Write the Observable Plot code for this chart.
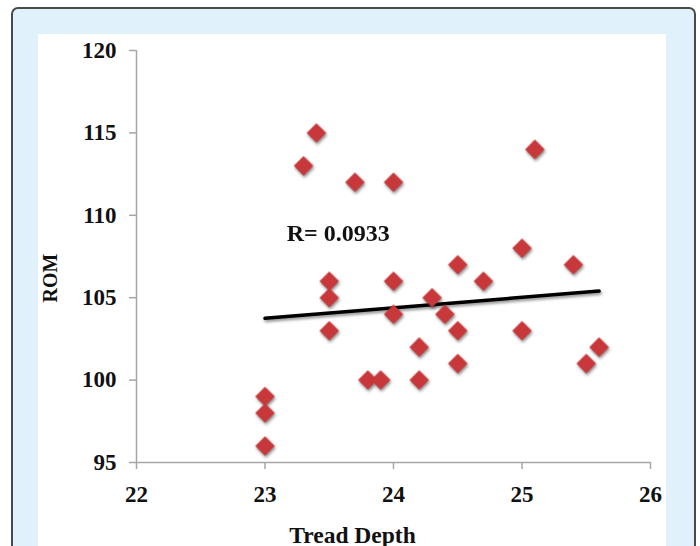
<!DOCTYPE html>
<html>
<head>
<meta charset="utf-8">
<script src="https://cdn.jsdelivr.net/npm/d3@7"></script>
<script src="https://cdn.jsdelivr.net/npm/@observablehq/plot@0.6"></script>
<style>
  html, body { margin: 0; padding: 0; background: #ffffff; width: 700px; height: 546px; overflow: hidden; }
  #frame { position: absolute; left: 11px; top: 7px; width: 681px; height: 560px;
           background: #e0f1fb; border: 2px solid #4a4a4a; border-radius: 7px; }
  #panel { position: absolute; left: 38px; top: 34px; width: 628px; height: 512px; background: #ffffff; }
  #panel svg { display: block; overflow: visible; }
</style>
</head>
<body>
<div id="frame"></div>
<div id="panel"></div>
<script>
// Tread depth (x) and ROM (y) for each subject
const treadDepth = [23.3, 23.4, 23.7, 24.0, 23.5, 23.5, 23.5, 24.0, 24.0, 24.3, 24.4, 24.5, 24.5, 24.5,
                    24.2, 24.2, 23.8, 23.9, 24.7, 25.0, 25.0, 25.1, 25.4, 25.5, 25.6, 23.0, 23.0, 23.0];
const rom        = [113, 115, 112, 112, 106, 105, 103, 106, 104, 105, 104, 107, 103, 101,
                    102, 100, 100, 100, 106, 108, 103, 114, 107, 101, 102, 99, 98, 96];
// Trend line end points (as drawn)
const trendX = [23.0, 25.6];
const trendY = [103.75, 105.4];
// Tick values
const xTicks = [22, 23, 24, 25, 26];
const yTicks = [95, 100, 105, 110, 115, 120];
// Annotation
const rLabel = "R= 0.0933";
const rPos = {x: 23.57, y: 108.9};

const points = treadDepth.map((x, i) => ({x, y: rom[i]}));
const trend = trendX.map((x, i) => ({x, y: trendY[i]}));

const font = "'Liberation Serif', 'Times New Roman', serif";
const axisColor = "#a6a6a6";

const chart = Plot.plot({
  width: 628,
  height: 512,
  marginLeft: 98,
  marginRight: 16,
  marginTop: 16,
  marginBottom: 84,
  style: { fontFamily: font, fontSize: "23px", fontWeight: "bold", color: "#111", background: "transparent", overflow: "visible" },
  x: { domain: [22, 26] },
  y: { domain: [95, 120] },
  marks: [
    Plot.ruleY([95], { stroke: axisColor, strokeWidth: 1.5 }),
    Plot.ruleX([22], { stroke: axisColor, strokeWidth: 1.5 }),
    Plot.axisX({ ticks: xTicks, tickFormat: d => String(d), tickSize: 7, tickPadding: 16, stroke: axisColor, strokeWidth: 1.5, label: null, fontSize: 23, fill: "#111" }),
    Plot.axisY({ ticks: yTicks, tickFormat: d => String(d), tickSize: 7, tickPadding: 13, stroke: axisColor, strokeWidth: 1.5, label: null, fontSize: 23, fill: "#111" }),
    Plot.text(["ROM"], { frameAnchor: "left", dx: -86, dy: 46, rotate: -90, fontSize: 20, fontWeight: "bold", fill: "#111" }),
    Plot.text(["Tread Depth"], { frameAnchor: "bottom", dx: -41, dy: 80, fontSize: 23.5, fontWeight: "bold", fill: "#111" }),
    Plot.line(trend, { x: "x", y: "y", stroke: "#000", strokeWidth: 3.5, className: "shadowed" }),
    Plot.dot(points, { x: "x", y: "y", symbol: "diamond2", r: 8.8, fill: "#c8373a", stroke: "none", className: "shadowed" }),
    Plot.text([rPos], { x: "x", y: "y", text: () => rLabel, fontSize: 24, fontWeight: "bold", fill: "#111" })
  ]
});

chart.querySelectorAll(".shadowed").forEach(g => {
  g.style.filter = "drop-shadow(1.5px 2.5px 1.5px rgba(0,0,0,0.45))";
});

document.getElementById("panel").appendChild(chart);
</script>
</body>
</html>
